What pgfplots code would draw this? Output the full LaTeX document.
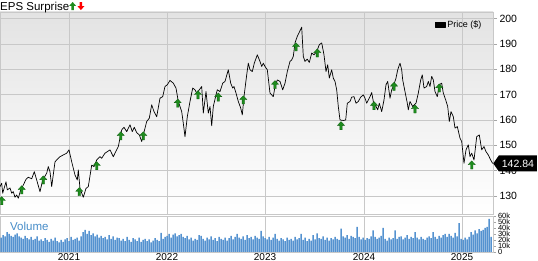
\documentclass[border=0pt]{standalone}
\usepackage{pgfplots}
\pgfplotsset{compat=1.18}
\usepackage{fontspec}
\setmainfont{Liberation Sans}
\usetikzlibrary{shapes.symbols}
\definecolor{epsgreen}{RGB}{30,140,30}
\definecolor{epsgreendark}{RGB}{15,95,15}
\definecolor{volblue}{RGB}{84,146,208}
\definecolor{vollabel}{RGB}{70,140,200}
\definecolor{gridgray}{RGB}{200,200,200}
\pgfdeclareplotmark{epsup}{%
  \pgfpathmoveto{\pgfpoint{0pt}{4.2pt}}%
  \pgfpathlineto{\pgfpoint{3.6pt}{0.4pt}}%
  \pgfpathlineto{\pgfpoint{1.2pt}{0.4pt}}%
  \pgfpathlineto{\pgfpoint{1.2pt}{-4pt}}%
  \pgfpathlineto{\pgfpoint{-1.2pt}{-4pt}}%
  \pgfpathlineto{\pgfpoint{-1.2pt}{0.4pt}}%
  \pgfpathlineto{\pgfpoint{-3.6pt}{0.4pt}}%
  \pgfpathclose
  \pgfusepathqfillstroke}
\newcommand\upicon{\tikz[baseline=0pt]\fill[epsgreen] (0,8pt)--(3.4pt,4.2pt)--(1.2pt,4.2pt)--(1.2pt,0pt)--(-1.2pt,0pt)--(-1.2pt,4.2pt)--(-3.4pt,4.2pt)--cycle;}
\newcommand\downicon{\tikz[baseline=0pt]\fill[red] (0,0pt)--(3.4pt,3.8pt)--(1.2pt,3.8pt)--(1.2pt,8pt)--(-1.2pt,8pt)--(-1.2pt,3.8pt)--(-3.4pt,3.8pt)--cycle;}
\begin{document}
\begin{tikzpicture}
\useasboundingbox (0,0) rectangle (538pt,261pt);
% ---------------- price panel ----------------
\begin{axis}[
  at={(0pt,47pt)}, anchor=south west,
  width=493pt, height=202pt, scale only axis,
  xmin=0, xmax=493, ymin=122.9, ymax=202.6,
  axis background/.style={shade, top color=black!11, middle color=white, bottom color=white},
  axis line style={gridgray},
  xtick={69,167,265,364,462}, xticklabels={},
  xmajorgrids, ymajorgrids,
  grid style={gridgray, line width=0.6pt},
  ytick={130,140,...,200},
  ytick pos=right, tick align=outside,
  xtick style={draw=none},
  ytick style={gray!70, line width=0.5pt},
  major tick length=4pt,
  /pgf/number format/assume math mode=true,
  yticklabel style={font=\fontsize{10.5}{10.5}\selectfont, xshift=-1pt},
  clip mode=individual,
  legend style={at={(0.983,0.972)}, anchor=north east, draw=none, fill=none,
     font=\fontsize{9}{9}\selectfont, inner sep=1pt},
  legend image code/.code={\fill[black] (0pt,-2.3pt) rectangle (10pt,2.3pt);},
]
\addplot[black, line width=0.7pt, line join=round] table {
x y
0 133.7
1.7 135.0
2.7 131.1
6 135.6
7.3 132.4
10 133.2
11.7 131.1
13.3 131.7
15 129.5
16.7 130.4
18.3 129.1
20.7 132.4
23.3 134.3
26 136.6
28.3 137.4
31.7 136.8
34.3 139.6
36.7 136.3
40 131.7
42.7 136.3
46.7 139.0
48.3 141.6
50 139.6
51.7 133.7
55 143.5
56.7 144.2
60 145.5
63.3 146.2
66.7 146.9
69 148.2
71.7 143.5
75 138.3
77.3 136.3
78.3 140.3
80 133.0
83.3 129.5
86 133.0
88.3 133.7
91.7 142.2
94 141.6
96.7 144.2
100 145.5
101.7 144.9
105 146.9
110 148.2
113.3 145.5
115 146.9
118.3 149.5
121.7 156.1
124 157.1
126.7 155.4
130 158.1
132.3 155.4
134.3 157.1
136.7 155.0
139.3 154.1
141.7 151.5
143.3 154.1
146.7 159.4
149.3 160.7
151.7 166.0
154 163.3
156.7 161.3
160 168.6
162.7 169.2
165 173.2
167.3 173.9
170 175.6
173.3 174.5
176 172.6
178.3 167.3
180 165.3
181.7 163.3
183.3 158.7
185 153.4
187.3 161.3
190 167.3
192.7 172.6
195 171.9
196.7 170.6
199.3 171.9
201.7 173.2
203.3 162.7
206 171.2
208.3 162.7
210 165.3
211.7 157.7
213.3 165.3
216 169.9
217.3 171.9
220 171.2
222.7 174.5
225 175.2
228.3 179.8
230.7 174.5
232.7 172.6
234 173.2
236 170.6
238.3 167.3
240.7 164.7
242.3 162.0
244 169.2
246.7 177.8
248.3 182.4
250 179.8
252.3 179.1
254.3 182.4
257.3 185.7
260 183.1
261.7 181.1
263.3 182.4
265 181.1
267.3 179.8
270 170.6
273.3 169.2
275 173.2
277.3 175.8
280 175.2
282.7 171.9
285 174.5
287.3 179.1
290 183.1
291.7 183.7
293.3 185.1
295 190.4
297.3 193.0
300 195.2
301.7 196.6
303.3 185.1
305 183.1
307.3 184.0
309.3 182.7
311.7 186.4
314 185.7
316.7 187.0
319.3 189.7
321.7 190.4
324 185.7
326 179.1
327.7 181.8
329.3 176.5
331.7 179.8
333.3 176.5
335 175.2
336.7 171.9
338.3 165.3
340 160.0
343.3 159.8
345.7 160.0
347.3 166.6
350 167.3
351.7 169.0
354 169.2
356 166.6
358.3 167.3
360.7 169.0
363.3 169.9
365 168.6
366.7 166.6
370 169.2
371.7 170.8
373.3 167.3
376 165.3
377.7 164.0
379.3 166.6
381.7 163.3
384 167.9
386 173.9
387.7 175.2
390 168.6
391.7 171.9
393.3 173.2
396 176.5
397.7 179.8
400 182.4
401.7 179.8
402.7 175.8
405 171.2
407.3 166.6
408.3 164.0
410 167.3
412.7 165.3
416 166.6
418.3 170.6
420.7 175.8
422.3 177.8
424 172.6
426.7 173.2
428.3 175.2
430 173.2
431.7 177.2
433.3 175.8
435 171.2
437.3 169.2
439.3 173.9
441.7 174.5
443.3 170.6
445.7 167.9
447.7 165.3
449.3 159.4
451 163.3
453.3 161.3
455 156.8
457.3 157.4
460 152.8
461.7 151.5
464 142.9
466 148.2
468.3 150.2
470 145.5
471.7 146.9
474 144.2
476.7 153.4
479.3 154.1
481.7 148.2
484 149.5
486 147.5
488.3 146.2
490.7 144.2
492.7 142.84
};
\addlegendentry{Price (\$)}
\addplot[only marks, mark=epsup, forget plot,
  mark options={fill=epsgreen, draw=epsgreendark, line width=0.3pt}] table {
x y
1.7 128.1
21.7 132.4
43.3 136.3
79.3 131.7
96.7 141.9
120.7 153.7
143.3 153.7
177.7 166.6
198 169.9
218.3 169.0
243.3 167.9
275 173.9
296 188.8
317.3 186.4
341 157.7
374 165.6
394 173.2
415 164.3
439.3 172.6
471.7 142.2
};
\node[signal, signal to=west, signal pointer angle=110, fill=black, text=white,
  font=\fontsize{10.5}{10.5}\selectfont, anchor=west, minimum height=16pt,
  inner xsep=3pt, inner ysep=1pt] at (axis cs:493,142.84) {142.84};
\end{axis}
% ---------------- title ----------------
\node[anchor=north west, inner sep=0pt, font=\fontsize{11.5}{12}\selectfont]
  at (0pt,259.5pt) {EPS Surprise\upicon\hspace{1.5pt}\downicon};
% ---------------- volume panel ----------------
\begin{axis}[
  at={(0pt,9pt)}, anchor=south west,
  width=493pt, height=36pt, scale only axis,
  xmin=0, xmax=493, ymin=0, ymax=60,
  axis line style={gridgray},
  xtick={69,167,265,364,462}, xticklabels={2021,2022,2023,2024,2025},
  xmajorgrids, grid style={gridgray, line width=0.6pt},
  ytick={0,10,...,60}, yticklabels={0,10k,20k,30k,40k,50k,60k},
  ytick pos=right, tick align=outside,
  xtick style={draw=none},
  ytick style={gray!70, line width=0.4pt},
  major tick length=3pt,
  /pgf/number format/assume math mode=true,
  xticklabel style={font=\fontsize{10}{10}\selectfont, yshift=5.5pt},
  yticklabel style={font=\fontsize{7.5}{7.5}\selectfont, xshift=-1.5pt},
  clip mode=individual,
]
\addplot[ybar, bar width=1.5pt, bar shift=0pt, fill=volblue, draw=none] table {
x v
1 24
3 28
5 26
7 33
9 30
11 27
13 25
15 29
17 31
19 26
21 24
23 22
25 27
27 23
29 21
31 25
33 20
35 22
37 26
39 19
41 21
43 18
45 23
47 20
49 17
51 22
53 19
55 24
57 18
59 16
61 20
63 17
65 21
67 23
69 18
71 25
73 20
75 22
77 24
79 19
81 26
83 33
85 37
87 30
89 35
91 28
93 31
95 26
97 29
99 24
101 27
103 23
105 25
107 21
109 28
111 22
113 26
115 20
117 24
119 23
121 19
123 22
125 18
127 25
129 20
131 17
133 23
135 21
137 18
139 24
141 17
143 20
145 22
147 18
149 21
151 16
153 19
155 23
157 20
159 18
161 32
163 22
165 25
167 27
169 30
171 24
173 29
175 31
177 26
179 28
181 30
183 25
185 23
187 27
189 21
191 24
193 19
195 22
197 20
199 28
201 27
203 22
205 19
207 24
209 21
211 26
213 20
215 23
217 18
219 25
221 22
223 20
225 24
227 19
229 23
231 27
233 21
235 25
237 30
239 24
241 22
243 26
245 20
247 28
249 23
251 25
253 21
255 27
257 24
259 22
261 35
263 26
265 23
267 21
269 25
271 20
273 24
275 30
277 22
279 19
281 23
283 21
285 18
287 24
289 20
291 22
293 19
295 25
297 21
299 23
301 30
303 20
305 24
307 18
309 22
311 19
313 28
315 21
317 31
319 23
321 22
323 26
325 20
327 24
329 19
331 23
333 21
335 25
337 22
339 20
341 39
343 26
345 24
347 28
349 22
351 27
353 25
355 23
357 42
359 25
361 21
363 24
365 20
367 23
369 22
371 26
373 36
375 25
377 22
379 24
381 27
383 40
385 22
387 19
389 24
391 21
393 23
395 36
397 22
399 25
401 26
403 21
405 24
407 28
409 22
411 25
413 23
415 33
417 24
419 21
421 25
423 22
425 20
427 24
429 26
431 23
433 33
435 25
437 22
439 27
441 24
443 28
445 30
447 25
449 30
451 27
453 24
455 32
457 26
459 48
461 22
463 20
465 24
467 21
469 25
471 33
473 29
475 36
477 31
479 38
481 35
483 37
485 40
487 42
489 55
491 25
};
\node[anchor=west, inner sep=0pt, text=vollabel, font=\fontsize{11.5}{12}\selectfont]
  at (axis cs:10,43) {Volume};
\end{axis}
\end{tikzpicture}
\end{document}
